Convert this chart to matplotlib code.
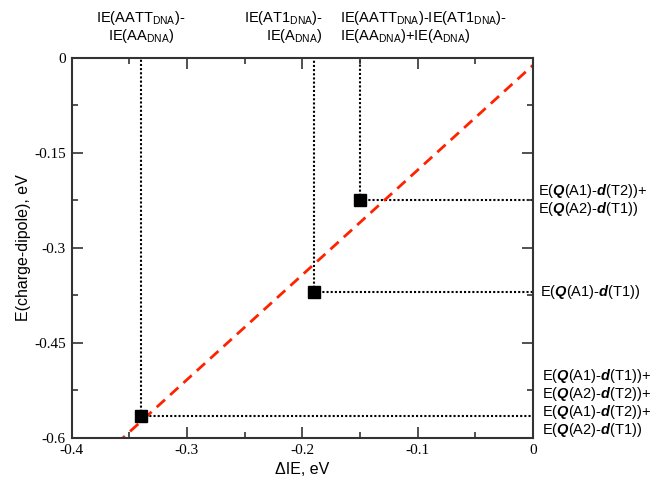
import numpy as np
import matplotlib
matplotlib.use('Agg')
import matplotlib.pyplot as plt

plt.rcParams['axes.unicode_minus'] = False
plt.rcParams['mathtext.fontset'] = 'custom'
plt.rcParams['mathtext.rm'] = 'Liberation Sans'
plt.rcParams['mathtext.it'] = 'Liberation Sans:italic'
plt.rcParams['mathtext.bf'] = 'Liberation Sans:bold'
plt.rcParams['mathtext.bfit'] = 'Liberation Sans:italic:bold'

# data
delta_ie = [-0.34, -0.19, -0.15]
e_cd = [-0.565, -0.37, -0.225]

top_labels = [
    r'IE(AATT$_{\mathrm{DNA}}$)-' + '\n' + r'IE(AA$_{\mathrm{DNA}}$)',
    r'IE(AT1$_{\mathrm{DNA}}$)-' + '\n' + r'IE(A$_{\mathrm{DNA}}$)',
    r'IE(AATT$_{\mathrm{DNA}}$)-IE(AT1$_{\mathrm{DNA}}$)-' + '\n'
    + r'IE(AA$_{\mathrm{DNA}}$)+IE(A$_{\mathrm{DNA}}$)',
]
right_labels = [
    r'E($\mathbfit{Q}$(A1)-$\mathbfit{d}$(T1))+' + '\n'
    + r'E($\mathbfit{Q}$(A2)-$\mathbfit{d}$(T2))+' + '\n'
    + r'E($\mathbfit{Q}$(A1)-$\mathbfit{d}$(T2))+' + '\n'
    + r'E($\mathbfit{Q}$(A2)-$\mathbfit{d}$(T1))',
    r'E($\mathbfit{Q}$(A1)-$\mathbfit{d}$(T1))',
    r'E($\mathbfit{Q}$(A1)-$\mathbfit{d}$(T2))+' + '\n'
    + r'E($\mathbfit{Q}$(A2)-$\mathbfit{d}$(T1))',
]

x_ticks = [-0.4, -0.3, -0.2, -0.1, 0]
x_ticklabels = ['-0.4', '-0.3', '-0.2', '-0.1', '0']
y_ticks = [0, -0.15, -0.3, -0.45, -0.6]
y_ticklabels = ['0', '-0.15', '-0.3', '-0.45', '-0.6']

fig = plt.figure(figsize=(6.56, 4.79), dpi=100)
ax = fig.add_axes([0.109, 0.0856, 0.7035, 0.7934])

# linear fit through the three points
slope, intercept = np.polyfit(delta_ie, e_cd, 1)
xf = np.array([-0.4, 0.0])
ax.plot(xf, slope * xf + intercept, color='#ff2200', lw=2, dashes=(4, 2.5), zorder=2)

for x, y in zip(delta_ie, e_cd):
    ax.plot([x, x], [y, 0], color='black', lw=1.5, ls=(0, (1, 1)), zorder=1)
    ax.plot([x, 0], [y, y], color='black', lw=1.5, ls=(0, (1, 1)), zorder=1)
ax.plot(delta_ie, e_cd, 's', color='black', markersize=8, zorder=3)

ax.set_xlim(-0.4, 0)
ax.set_ylim(-0.6, 0)
ax.set_xticks(x_ticks)
ax.set_xticklabels(x_ticklabels, family='Liberation Serif', fontsize=11)
ax.set_yticks(y_ticks)
ax.set_yticklabels(y_ticklabels, family='Liberation Serif', fontsize=11)
ax.set_xticks(np.arange(-0.35, 0, 0.1), minor=True)
ax.set_yticks([-0.075, -0.225, -0.375, -0.525], minor=True)
ax.tick_params(which='both', direction='in', top=True, right=True, color='#333333')
ax.tick_params(which='major', length=8, width=1.2, pad=4)
ax.tick_params(which='minor', length=4, width=1.2)
for s in ax.spines.values():
    s.set_linewidth(1.5)
    s.set_color('#333333')

ax.set_xlabel('ΔIE, eV', family='Liberation Sans', fontsize=11.5, labelpad=4)
ax.set_ylabel('E(charge-dipole), eV', family='Liberation Sans', fontsize=11.5, labelpad=2)

# labels above the plot
fs = 10.5
ax.text(-0.34, 0.02, top_labels[0], ha='center', va='bottom', fontsize=fs,
        family='Liberation Sans', linespacing=1.0)
ax.text(-0.182, 0.02, top_labels[1], ha='right', va='bottom', fontsize=fs,
        family='Liberation Sans', linespacing=1.0, multialignment='right')
ax.text(-0.167, 0.02, top_labels[2], ha='left', va='bottom', fontsize=fs,
        family='Liberation Sans', linespacing=1.0)

# labels right of the plot
ax.text(0.008, -0.545, right_labels[0], ha='left', va='center', fontsize=fs,
        family='Liberation Sans', linespacing=1.0, clip_on=False)
ax.text(0.006, e_cd[1], right_labels[1], ha='left', va='center', fontsize=fs,
        family='Liberation Sans', linespacing=1.0, clip_on=False)
ax.text(0.004, e_cd[2], right_labels[2], ha='left', va='center', fontsize=fs,
        family='Liberation Sans', linespacing=1.0, clip_on=False)

fig.savefig('out.png', dpi=100)
